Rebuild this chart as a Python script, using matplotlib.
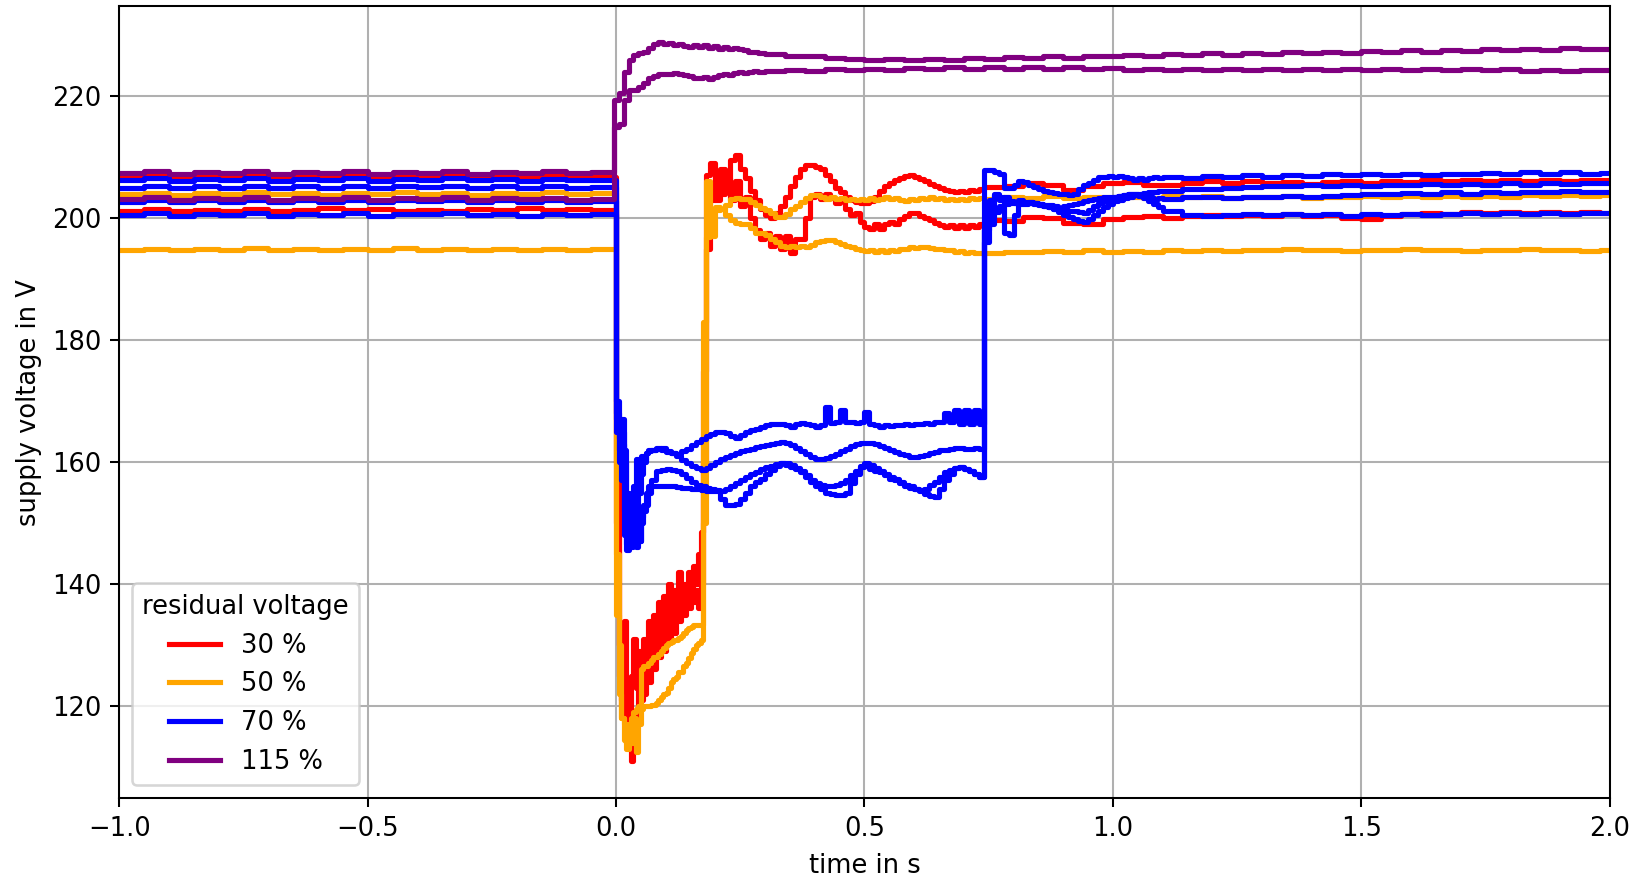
import numpy as np
import matplotlib
matplotlib.use("Agg")
import matplotlib.pyplot as plt

# ---------------- data (supply voltage in V) ----------------
LABELS = ["30 %", "50 %", "70 %", "115 %"]
COLORS = ["red", "orange", "blue", "purple"]

# time grids (s)
T_RED_ORANGE = np.concatenate([-1.0 + 0.05 * np.arange(20), 0.005 * np.arange(36),
                               0.18 + 0.01 * np.arange(56), 0.74 + 0.04 * np.arange(32)])
T_PURPLE = np.concatenate([-1.0 + 0.05 * np.arange(20), -0.005 + 0.01 * np.arange(30),
                           0.30 + 0.04 * np.arange(43)])
T_BLUE = np.concatenate([-1.0 + 0.05 * np.arange(20), 0.005 * np.arange(14),
                         0.07 + 0.01 * np.arange(67), 0.74 + 0.01 * np.arange(36),
                         1.10 + 0.04 * np.arange(23)])

RED_1 = """
206.6 206.9 206.5 206.8 206.6 206.9 206.5 206.8 206.6 206.9 206.6 206.8 206.5 206.9 206.6 206.8 206.5 206.9 206.7 206.8
150 125 120 134 124 117 125 131 123 129 121 131 126 134 128 135 130 137 131 138 133 140 134 139 135 142 136 140 137 142 138 143 140 145 148.5 175
207 209 203 208 206 209.5 210.3 208 206.5 204.5 203 201.5 200.5 200 200.8 202 203.5 205.2 206.7 208 208.7 208.7 208.4 208 207 206 205 204.2 203.5 203 202.6 202.4 202.4 202.8 203.5 204.4 205.2 205.8 206.3 206.6 206.9 207.0 206.8 206.4 206.0 205.6 205.2 204.9 204.6 204.4 204.3 204.5 204.3 204.6 204.4 204.8
205.1 205.3 205.7 205.5 204.6 205.3 205.7 205.9 205.5 205.4 205.8 206.0 205.8 206.0 205.7 205.9 205.6 205.9 206.0 205.8 206.1 205.9 206.2 206.0 206.3 206.1 206.3 206.1 206.3 206.1 206.3 206.2
"""
RED_2 = """
201.2 201.5 201.1 201.4 201.2 201.5 201.1 201.4 201.6 201.3 201.5 201.2 201.4 201.1 201.5 201.3 201.6 201.3 201.5 201.4
160 130 121 118 114 117 111 116 119 123 126 122 128 124 129 126 131 128 132 129 134 131 136 132 137 134 138 135 139 136 140 137 139 136 140 160
195 203 207 204 206.5 203 206 202 203.5 200 198 196.5 197.5 195.5 197 195 197 194.3 196.5 196.5 200 203.5 204 203.2 204 203.3 202.5 203 201.5 200.5 200.8 199.3 198.5 198.2 199 198.2 199 199.3 199.1 199.8 200.4 200.8 200.8 200.4 200 199.7 199.2 198.8 198.5 198.8 198.3 198.8 198.4 198.9 198.5 199.0
199.7 199.6 200.2 200.0 199.2 199.0 199.8 200.1 200.3 200.0 200.3 200.5 200.3 200.5 200.4 200.6 200.3 200.5 200.0 199.8 200.4 200.6 200.8 200.6 201.0 200.8 201.0 200.8 201.0 200.8 201.0 200.9
"""
ORANGE_1 = """
203.9 204.1 203.8 204.1 203.9 204.2 203.9 204.1 203.8 204.1 203.9 204.2 203.9 204.1 203.8 204.1 203.9 204.2 203.9 204.1
135 122 118 117 115.5 117 118 119 119.5 120 126 126.5 126.5 127 127.5 128 128 128.5 129 129.5 130 130.3 130.5 130.8 130.8 131.2 131.5 132 132.5 132.8 133 133.2 133.3 133.3 133.3 183
206 197 201.3 201.5 202.1 203.2 203.3 203.2 203.2 202.7 202.2 201.6 201.4 200.8 200.2 200.2 200.6 201.5 202 202.6 203.3 203.8 203.8 203.5 203.2 203.4 203.1 203.3 203.0 203.2 202.9 203.2 203.0 203.3 202.9 203.2 203.4 203.1 203.3 203.0 202.8 203.1 202.9 203.3 203.1 203.4 203.1 203.3 203.0 203.2 202.9 203.2 203.0 203.3 203.1 203.3
203.2 203.5 203.3 203.6 203.3 203.5 203.2 203.5 203.3 203.6 203.4 203.6 203.3 203.5 203.4 203.6 203.3 203.5 203.4 203.7 203.5 203.7 203.4 203.6 203.5 203.7 203.5 203.8 203.6 203.8 203.6 203.8
"""
ORANGE_2 = """
194.8 195.0 194.7 195.0 194.8 195.1 194.8 195.0 194.7 195.0 194.8 195.1 194.8 195.0 194.7 195.0 194.8 195.0 194.7 194.9
145 130 118 114.5 113 116 114 118 112.5 117 119.5 120 120 120 120.2 120.2 120.5 121 121.5 122 122.2 123 124 124.5 124.8 125.5 125.5 126.6 127 127.8 128.7 129.3 130 130.3 130.9 150
196.9 201.0 201.8 201.5 200.5 199.7 199.2 199.0 199.0 198.3 197.5 197.5 197.2 196.5 196.0 195.5 195.3 195.5 195.2 195.4 195.3 195.6 196.0 196.3 196.4 196.4 196.1 195.7 195.4 195.2 195.0 194.8 194.6 194.8 194.5 194.7 194.5 194.7 194.6 194.9 195.0 195.2 195.1 195.3 195.2 195.1 194.9 195.0 194.8 194.7 194.5 194.6 194.3 194.5 194.3 194.2
194.3 194.5 194.4 194.6 194.5 194.7 194.5 194.6 194.5 194.7 194.6 194.8 194.6 194.8 194.7 194.9 194.7 194.8 194.6 194.8 194.7 194.9 194.7 194.8 194.6 194.8 194.7 194.9 194.7 194.8 194.6 194.8
"""
BLUE_1 = """
206.2 206.5 206.1 206.4 206.2 206.5 206.1 206.4 206.2 206.5 206.1 206.4 206.3 206.5 206.2 206.4 206.1 206.4 206.2 206.3
168 164 167 162 154 148 155 150 160.5 158 161 160.3 161.5 161.8
162 162.3 162.0 161.7 161.5 161.3 161.8 162.2 162.8 163.3
163.8 164.2 164.6 165.0 165.0 164.8 164.2 164.0 164.5 165.0
165.2 165.4 165.8 166.1 166.3 166.3 166.2 166.0 165.8 166.2
166.4 166.3 166.0 165.8 166.0 169.0 166.4 166.6 168.5 166.6
166.5 166.4 166.5 168.2 166.3 166.0 165.8 166.0 165.9 166.1
166.0 166.2 166.1 166.3 166.2 166.4 166.3 166.6 166.5 168.0
166.5 168.5 166.3 168.5 166.3 168.5 166.3
207.9 207.9 207.6 207.2 205.0 204.9 205.5 206.0 205.9 205.4 205.1 204.8 204.5 204.3 204.1 204.0 203.9 203.8 204.0 204.8 205.5 205.8 206.2 206.7 206.8 206.9 206.7 206.9 206.7 206.5 206.3 206.5 206.2 206.5 206.7 206.6
206.8 206.6 206.9 206.7 207.0 206.8 207.1 206.9 207.2 207.0 207.3 207.1 207.3 207.1 207.3 207.2 207.4 207.2 207.5 207.3 207.5 207.3 207.4
"""
BLUE_2 = """
205.0 205.3 204.9 205.2 205.0 205.3 204.9 205.2 205.0 205.3 204.9 205.2 205.1 205.3 205.0 205.2 204.9 205.2 205.0 205.1
170 166 165 160 146.5 152 146 156 150 155 158 160 161.5 162
162 162.2 162.3 161.8 161.5 161.0 160.3 159.8 159.3 159.0
158.7 159.0 159.5 160.0 160.5 160.9 161.2 161.5 161.8 162.0
162.2 162.4 162.6 162.8 163.0 163.2 163.3 163.1 162.8 162.3
161.8 161.3 160.8 160.5 160.5 160.7 161.0 161.4 161.8 162.2
162.6 162.9 163.1 163.2 163.1 162.9 162.7 162.3 162.0 161.7
161.4 161.1 160.9 160.9 161.0 161.2 161.5 161.7 161.9 162.0
162.2 162.3 162.3 162.2 162.2 162.3 162.2
198.0 201.3 203.8 203.5 197.5 197.3 200.5 203.0 202.5 202.6 202.3 202.2 202.0 201.8 201.5 201.0 200.5 200.2 199.8 199.5 199.3 199.8 200.5 201.2 201.8 202.3 202.8 203.0 203.3 203.5 203.8 204.0 204.1 204.2 204.3 204.4
204.5 204.7 204.8 205.0 205.1 205.3 205.2 205.4 205.3 205.5 205.3 205.5 205.4 205.6 205.4 205.6 205.5 205.7 205.5 205.7 205.6 205.8 205.7
"""
BLUE_3 = """
202.7 203.0 202.6 202.9 202.7 203.0 202.6 202.9 202.7 203.0 202.6 202.9 202.8 203.0 202.7 202.9 202.6 202.9 202.7 202.8
165 162 163 148 155 150 147 152 146 147 151 153 155 156
157 158.5 158.7 158.8 158.7 158.6 158.0 157.4 156.8 156.3
156.0 155.8 155.5 155.4 154.0 152.9 153.0 153.2 154.0 155.0
156.0 156.7 157.2 158.0 158.7 159.3 159.8 159.5 159.2 158.8
158.4 157.5 156.8 156.0 155.5 155.0 154.8 154.6 154.6 155.0
156.5 158.0 159.2 159.3 158.8 158.5 158.3 157.8 157.3 157.0
156.8 156.3 156.0 155.6 155.2 154.8 154.5 154.3 155.5 157.0
158.0 159.0 159.2 158.8 158.5 158.0 157.6
198.5 203.0 204.0 203.0 203.5 202.8 202.5 202.6 202.7 202.6 202.5 202.3 202.2 202.1 202.0 201.7 201.3 201.2 201.2 201.0 200.8 201.3 202.0 202.5 202.8 203.2 203.5 203.7 203.8 204.0 204.0 203.6 203.3 202.8 202.3 201.8
201.2 200.5 200.3 200.5 200.6 200.5 200.7 200.5 200.6 200.4 200.6 200.5 200.7 200.5 200.6 200.8 200.6 200.8 200.7 200.9 200.7 200.9 200.8
"""
BLUE_4 = """
200.5 200.8 200.4 200.7 200.5 200.8 200.4 200.7 200.5 200.8 200.4 200.7 200.6 200.8 200.5 200.7 200.4 200.7 200.5 200.6
167 160 157 152 145.5 149 153 148 152 147 150 152 153 155
156 156.0 156.1 156.0 156.0 155.9 155.8 155.7 155.6 155.5
155.4 155.3 155.3 155.2 155.3 155.6 156.0 156.5 157.0 157.6
158.0 158.4 158.8 159.2 159.4 159.6 159.8 159.8 159.5 159.0
158.5 157.8 157.0 156.5 156.2 156.0 156.0 156.2 156.5 157.0
157.8 158.5 159.3 159.8 159.5 159.0 158.6 158.1 157.6 157.2
156.6 156.0 155.7 155.5 155.4 155.6 156.2 156.8 157.6 158.3
158.7 159.0 159.2 158.9 158.5 158.0 157.5
196.0 199.0 201.0 202.0 202.3 202.4 202.5 202.3 202.3 202.4 202.5 202.3 202.0 201.8 201.5 201.7 201.9 202.1 202.3 202.5 202.8 203.0 203.2 203.3 203.4 203.5 203.5 203.7 203.8 204.0 204.0 203.8 203.6 203.4 203.2 203.3
203.2 203.4 203.5 203.3 203.5 203.4 203.6 203.5 203.7 203.8 204.0 203.9 204.1 204.0 204.2 204.0 204.2 204.1 204.3 204.2 204.4 204.2 204.3
"""
PURPLE_1 = """
207.4 207.7 207.3 207.6 207.4 207.7 207.3 207.6 207.4 207.7 207.3 207.6 207.4 207.7 207.3 207.6 207.4 207.7 207.4 207.5
219.3 220.5 224.0 225.9 226.8 227.0 227.2 227.9 228.6 228.8 228.6 228.7 228.4 228.6 228.2 228.0 228.3 228.0 228.3 227.9 228.2 227.8 228.0 227.7 227.9 227.7 227.6 227.3 227.2 227.0
226.9 226.6 226.5 226.2 226.1 225.9 226.1 225.9 226.1 226.0 226.2 226.1 226.4 226.2 226.5 226.3 226.6 226.5 226.8 226.6 226.9 226.7 227.0 226.8 227.1 226.9 227.2 227.0 227.3 227.1 227.4 227.2 227.5 227.3 227.6 227.4 227.7 227.5 227.8 227.6 227.9 227.7 227.8
"""
PURPLE_2 = """
203.1 203.4 203.0 203.3 203.1 203.4 203.0 203.3 203.1 203.4 203.0 203.3 203.1 203.4 203.0 203.3 203.1 203.3 203.0 203.2
215.0 215.5 219.3 221.0 221.0 221.5 222.2 222.9 223.3 223.6 223.7 223.6 223.8 223.6 223.5 223.3 223.0 222.9 223.1 222.8 223.2 223.4 223.6 223.5 223.8 224.0 223.8 224.0 224.1 223.9
224.1 224.3 224.1 224.4 224.2 224.5 224.3 224.6 224.4 224.7 224.5 224.7 224.5 224.8 224.5 224.7 224.4 224.6 224.3 224.5 224.3 224.5 224.2 224.4 224.2 224.5 224.3 224.5 224.2 224.4 224.2 224.5 224.3 224.5 224.2 224.4 224.2 224.4 224.1 224.3 224.1 224.3 224.2
"""

GROUPS = [
    (T_RED_ORANGE, [RED_1, RED_2]),
    (T_RED_ORANGE, [ORANGE_1, ORANGE_2]),
    (T_BLUE, [BLUE_1, BLUE_2, BLUE_3, BLUE_4]),
    (T_PURPLE, [PURPLE_1, PURPLE_2]),
]


def parse(s):
    return np.array(s.split(), dtype=float)


# ---------------- figure ----------------
DPI = 185
fig = plt.figure(figsize=(1637 / DPI, 878 / DPI), dpi=DPI)
ax = fig.add_axes([0.0729, 0.0908, 0.9833 - 0.0729, 0.9930 - 0.0908])

for (t, traces), color, label in zip(GROUPS, COLORS, LABELS):
    for i, tr in enumerate(traces):
        v = parse(tr)
        assert len(v) == len(t), (label, i, len(v), len(t))
        tt = np.append(t, 2.0)
        vv = np.append(v, v[-1])
        ax.plot(tt, vv, drawstyle="steps-post", color=color, lw=2.0,
                label=label if i == 0 else None)

ax.set_xlim(-1.0, 2.0)
ax.set_ylim(104.87, 234.75)
ax.set_xticks([-1.0, -0.5, 0.0, 0.5, 1.0, 1.5, 2.0])
ax.set_yticks([120, 140, 160, 180, 200, 220])
ax.grid(True)
ax.set_xlabel("time in s")
ax.set_ylabel("supply voltage in V")
ax.legend(title="residual voltage", loc="lower left")

fig.savefig("out.png", dpi=DPI)
